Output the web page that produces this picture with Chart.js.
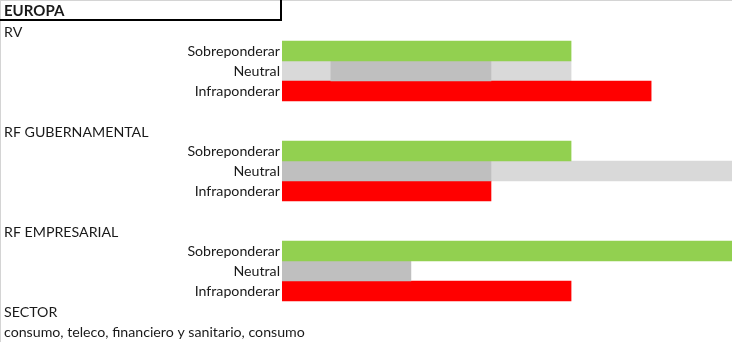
<!DOCTYPE html>
<html lang="es">
<head>
<meta charset="utf-8">
<script src="https://cdn.jsdelivr.net/npm/chart.js@4/dist/chart.umd.min.js"></script>
<style>
  html, body { margin: 0; padding: 0; background: #ffffff; }
  #contenedor { width: 732px; height: 342px; }
</style>
</head>
<body>
<div id="contenedor"><canvas id="graficaEuropa" width="732" height="342"></canvas></div>
<script>
// Escala en columnas: las barras arrancan en INICIO y cada columna vale 1
const INICIO = 0.39;
const FIN = 6.01;

const titulo = 'EUROPA';
const secciones = ['RV', 'RF GUBERNAMENTAL', 'RF EMPRESARIAL'];
const niveles = ['Sobreponderar', 'Neutral', 'Infraponderar'];

// un rango [desde, hasta] por sección
const sobreponderar = [[INICIO, 4], [INICIO, 4], [INICIO, FIN]];
const neutral = [[1, 3], [INICIO, 3], [INICIO, 2]];
const neutralAmplio = [[INICIO, 4], [3, FIN], null];
const infraponderar = [[INICIO, 5], [INICIO, 3], [INICIO, 4]];

const sectorTitulo = 'SECTOR';
const sectores = 'consumo, teleco, financiero y sanitario, consumo';

const colores = {
    verde: '#92d050',
    grisClaro: '#d9d9d9',
    gris: '#bfbfbf',
    rojo: '#ff0000',
    texto: '#1a1a1a'
};
const fuente = 'Lato';
const tamano = 14.2;

// filas de la hoja: título, y por sección cabecera + 3 niveles + hueco
const filas = [titulo];
const filasSeccion = [];
const filasNivel = [];
secciones.forEach((s, i) => {
    filasSeccion.push(filas.length);
    filas.push(s);
    filasNivel.push(filas.length);
    niveles.forEach(n => filas.push(n));
    if (i < secciones.length - 1) filas.push('');
});
const filaSector = filas.length;
filas.push(sectorTitulo);
filas.push(sectores);

function serie(rangos, nivel) {
    const datos = filas.map(() => null);
    rangos.forEach((r, i) => { datos[filasNivel[i] + nivel] = r; });
    return datos;
}

const esNivel = filas.map((_, i) => filasNivel.some(f => i >= f && i < f + 3));

const textoHoja = {
    id: 'textoHoja',
    afterDraw(chart) {
        const ctx = chart.ctx;
        const y = chart.scales.y;
        ctx.save();
        // bordes de la hoja
        ctx.strokeStyle = '#d4d4d4';
        ctx.lineWidth = 1;
        ctx.beginPath();
        ctx.moveTo(0, 0.5); ctx.lineTo(chart.width, 0.5);
        ctx.moveTo(0.5, 0); ctx.lineTo(0.5, chart.height);
        ctx.stroke();

        ctx.textBaseline = 'middle';
        ctx.textAlign = 'left';
        ctx.fillStyle = colores.texto;
        ctx.font = 'bold ' + (tamano + 0.8) + 'px ' + fuente;
        ctx.fillText(titulo, 4, y.getPixelForValue(0));

        // recuadro del título
        ctx.strokeStyle = '#000000';
        ctx.lineWidth = 2;
        ctx.beginPath();
        ctx.moveTo(0, 20);
        ctx.lineTo(281, 20);
        ctx.lineTo(281, 0);
        ctx.stroke();

        ctx.font = tamano + 'px ' + fuente;
        filasSeccion.forEach((f, i) => {
            ctx.fillText(secciones[i], 4, y.getPixelForValue(f) + 1);
        });
        ctx.fillText(sectorTitulo, 4, y.getPixelForValue(filaSector) + 1);
        ctx.fillText(sectores, 4, y.getPixelForValue(filaSector + 1) + 1);
        ctx.restore();
    }
};

const comunes = { grouped: false, barPercentage: 1, categoryPercentage: 1, borderWidth: 0 };

new Chart(document.getElementById('graficaEuropa').getContext('2d'), {
    type: 'bar',
    data: {
        labels: filas,
        datasets: [
            Object.assign({ label: 'Sobreponderar', data: serie(sobreponderar, 0), backgroundColor: colores.verde, order: 0 }, comunes),
            Object.assign({ label: 'Neutral', data: serie(neutral, 1), backgroundColor: colores.gris, order: 0 }, comunes),
            Object.assign({ label: 'Neutral (rango)', data: serie(neutralAmplio, 1), backgroundColor: colores.grisClaro, order: 1 }, comunes),
            Object.assign({ label: 'Infraponderar', data: serie(infraponderar, 2), backgroundColor: colores.rojo, order: 0 }, comunes)
        ]
    },
    options: {
        indexAxis: 'y',
        responsive: false,
        animation: false,
        layout: { padding: { top: 11, bottom: 11, left: 0, right: 0 } },
        plugins: { legend: { display: false }, tooltip: { enabled: false } },
        scales: {
            x: { display: false, min: INICIO, max: FIN },
            y: {
                offset: false,
                grid: { display: false, drawTicks: false },
                border: { display: false },
                afterFit(escala) { escala.width = 282; },
                ticks: {
                    autoSkip: false,
                    padding: 2,
                    color: colores.texto,
                    font: { family: fuente, size: tamano },
                    callback: function(valor, i) { return esNivel[i] ? filas[i] : ''; }
                }
            }
        }
    },
    plugins: [textoHoja]
});
</script>
</body>
</html>
